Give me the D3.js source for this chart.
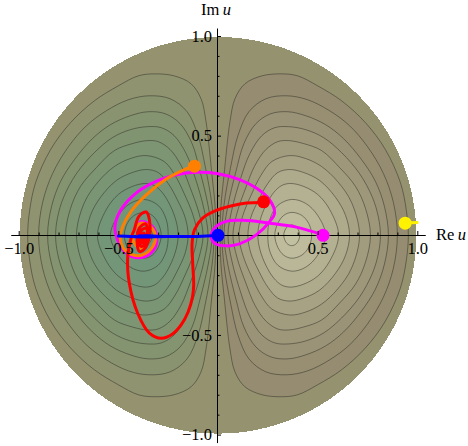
<!DOCTYPE html>
<html>
<head>
<meta charset="utf-8">
<style>
html, body { margin: 0; padding: 0; background: #fff; }
svg { display: block; }
text { font-family: "Liberation Serif", serif; font-size: 16.5px; fill: #000; }
</style>
<script src="https://cdn.jsdelivr.net/npm/d3@7"></script>
</head>
<body>
<svg id="chart" width="468" height="446"></svg>
<script>
// level curves, upper right quarter only (u, v). outermost first
const curve01 = [[0.01,0],[0.015,0.15],[0.03,0.30],[0.06,0.57],[0.085,0.685],[0.135,0.76],[0.22,0.80],[0.32,0.81],[0.40,0.80],[0.50,0.75],[0.62,0.675],[0.74,0.565],[0.84,0.43],[0.915,0.265],[0.945,0.125],[0.955,0]];
const curve02 = [[0.02,0],[0.03,0.15],[0.065,0.35],[0.10,0.50],[0.155,0.62],[0.24,0.685],[0.345,0.70],[0.45,0.68],[0.56,0.625],[0.66,0.55],[0.75,0.445],[0.83,0.31],[0.88,0.165],[0.90,0]];
const curve03 = [[0.03,0],[0.05,0.15],[0.09,0.32],[0.13,0.46],[0.19,0.56],[0.265,0.61],[0.35,0.62],[0.44,0.60],[0.54,0.555],[0.63,0.485],[0.72,0.38],[0.79,0.27],[0.835,0.145],[0.855,0]];
const curve04 = [[0.05,0],[0.07,0.13],[0.115,0.29],[0.16,0.41],[0.22,0.50],[0.285,0.54],[0.355,0.545],[0.44,0.53],[0.53,0.49],[0.62,0.415],[0.71,0.31],[0.775,0.19],[0.805,0.09],[0.815,0]];
const curve05 = [[0.075,0],[0.095,0.11],[0.14,0.24],[0.185,0.35],[0.24,0.43],[0.30,0.47],[0.355,0.475],[0.43,0.46],[0.52,0.425],[0.61,0.34],[0.69,0.245],[0.74,0.135],[0.765,0]];
const curve06 = [[0.105,0],[0.125,0.10],[0.17,0.21],[0.215,0.30],[0.27,0.37],[0.36,0.40],[0.44,0.385],[0.52,0.345],[0.60,0.27],[0.67,0.165],[0.71,0]];
const curve07 = [[0.15,0],[0.165,0.09],[0.205,0.18],[0.25,0.26],[0.30,0.315],[0.36,0.33],[0.43,0.315],[0.51,0.275],[0.59,0.19],[0.64,0.10],[0.66,0]];
const curve08 = [[0.20,0],[0.21,0.07],[0.24,0.15],[0.28,0.215],[0.32,0.25],[0.365,0.26],[0.43,0.245],[0.50,0.205],[0.56,0.13],[0.605,0]];
const curve09 = [[0.25,0],[0.26,0.08],[0.30,0.15],[0.37,0.18],[0.44,0.16],[0.50,0.10],[0.54,0]];
const curve10 = [[0.285,0],[0.30,0.06],[0.33,0.10],[0.37,0.115],[0.42,0.10],[0.455,0.06],[0.47,0]];
const curve11 = [[0.33,0],[0.345,0.04],[0.37,0.052],[0.395,0.04],[0.41,0]];
const levelCurves = [curve01, curve02, curve03, curve04, curve05, curve06, curve07, curve08, curve09, curve10, curve11];

const diskColor = "#959270";
const rightBands = ["#968c71","#988f73","#9b9378","#9e977a","#a29c7f","#a8a285","#aeaa8c","#b4b192","#bab798","#bebc9d","#c1c0a0"];
const leftBands = ["#8f9370","#8a9370","#859470","#819471","#7d9572","#7a9574","#779576","#749678","#72967a","#71967c","#6f967e"];

// trajectories, from their start dot inwards
const yellowPath = [[0.999,0.064],[0.97,0.063],[0.939,0.061]];
const magentaPath = [[0.527,0.002],[0.393,0.041],[0.259,0.061],[0.125,0.075],[0.041,0.07],[-0.018,0.036],[-0.034,-0.006],[-0.018,-0.039],[0.041,-0.053],[0.108,-0.043],[0.192,0.002],[0.259,0.069],[0.284,0.111],[0.259,0.178],[0.192,0.237],[0.108,0.279],[0,0.309],[-0.109,0.316],[-0.21,0.304],[-0.311,0.27],[-0.411,0.212],[-0.487,0.128],[-0.517,0.044],[-0.504,-0.023],[-0.475,-0.075],[-0.428,-0.108],[-0.37,-0.108],[-0.316,-0.062],[-0.308,-0.006],[-0.33,0.045],[-0.386,0.068],[-0.42,0.028]];
const orangePath = [[-0.115,0.349],[-0.176,0.326],[-0.26,0.282],[-0.36,0.203],[-0.436,0.12],[-0.478,0.044],[-0.49,-0.014],[-0.475,-0.065],[-0.428,-0.098],[-0.378,-0.098],[-0.327,-0.056],[-0.314,-0.006],[-0.336,0.041],[-0.386,0.061],[-0.42,0.028],[-0.428,-0.022],[-0.394,-0.064],[-0.361,-0.047],[-0.344,-0.006],[-0.36,0.028]];
const redPath = [[0.225,0.165],[0.142,0.162],[0.059,0.146],[-0.009,0.125],[-0.076,0.087],[-0.118,0.028],[-0.13,-0.039],[-0.127,-0.14],[-0.122,-0.25],[-0.128,-0.31],[-0.15,-0.385],[-0.185,-0.45],[-0.23,-0.497],[-0.285,-0.517],[-0.344,-0.491],[-0.403,-0.391],[-0.445,-0.241],[-0.453,-0.107],[-0.436,-0.014],[-0.42,0.028],[-0.397,0.095],[-0.36,0.117],[-0.344,0.078],[-0.344,-0.006],[-0.369,-0.069],[-0.394,-0.081],[-0.406,-0.031],[-0.394,0.036],[-0.364,0.058],[-0.352,0.019],[-0.36,-0.039],[-0.386,-0.056],[-0.394,-0.014],[-0.381,0.028],[-0.36,0.036],[-0.356,-0.006],[-0.377,-0.039],[-0.386,-0.014],[-0.372,0.012],[-0.366,-0.011],[-0.376,-0.02]];
const bluePath = [[-0.50,-0.004],[-0.44,-0.006],[-0.36,-0.009],[-0.30,-0.004],[-0.40,-0.002],[-0.36,-0.006],[-0.2,-0.006],[-0.1,-0.006],[0,0]];

const startDots = [
    { name: "yellow", color: "#fff200", u: 0.939, v: 0.061 },
    { name: "magenta", color: "#ff00ff", u: 0.527, v: 0 },
    { name: "orange", color: "#ff8000", u: -0.118, v: 0.347 },
    { name: "red", color: "#ff0000", u: 0.229, v: 0.168 },
    { name: "blue", color: "#0000ff", u: 0, v: 0 }
];

const majorTicks = [-1, -0.5, 0.5, 1];
const minorTicks = [-0.9, -0.8, -0.7, -0.6, -0.4, -0.3, -0.2, -0.1, 0.1, 0.2, 0.3, 0.4, 0.6, 0.7, 0.8, 0.9];

const svg = d3.select("#chart");

const unit = 199.3;
const cx = 218;
const cy = 235.3;
const x = d3.scaleLinear().domain([-1.04, 1.04]).range([cx - 1.04 * unit, cx + 1.04 * unit]);
const y = d3.scaleLinear().domain([-1.04, 1.04]).range([cy + 1.04 * unit, cy - 1.04 * unit]);

const tickText = d => (d < 0 ? "\u2212" : "") + Math.abs(d).toFixed(1);

// disk
svg.append("ellipse")
    .attr("cx", x(0))
    .attr("cy", y(0))
    .attr("rx", x(0.995) - x(0))
    .attr("ry", y(0) - y(0.995))
    .attr("fill", diskColor)
    .attr("shape-rendering", "crispEdges");

// one lobe of closed curves, filled from the outside in
const lobeLine = d3.line().x(d => x(d[0])).y(d => y(d[1])).curve(d3.curveCatmullRomClosed.alpha(0.5));
function closeCurve(points, sign) {
    const top = points.map(p => [sign * p[0], p[1]]);
    const bottom = points.slice(1, -1).reverse().map(p => [sign * p[0], -p[1]]);
    return top.concat(bottom);
}
[[1, rightBands], [-1, leftBands]].forEach(([sign, bands]) => {
    svg.append("g")
        .selectAll("path")
        .data(levelCurves)
        .join("path")
        .attr("d", d => lobeLine(closeCurve(d, sign)))
        .attr("fill", (d, i) => bands[i])
        .attr("stroke", "#2e2e26")
        .attr("stroke-opacity", 0.5)
        .attr("stroke-width", 1);
});

// axes
function drawAxis(axis, transform) {
    return svg.append("g").attr("transform", transform).call(axis);
}
const xMajor = drawAxis(d3.axisBottom(x).tickValues(majorTicks).tickFormat(tickText).tickSizeInner(-4).tickSizeOuter(0).tickPadding(7), "translate(0,235)");
const xMinor = drawAxis(d3.axisBottom(x).tickValues(minorTicks).tickFormat("").tickSizeInner(-2.5).tickSizeOuter(0), "translate(0,235)");
const yMajor = drawAxis(d3.axisLeft(y).tickValues(majorTicks).tickFormat(tickText).tickSizeInner(-4).tickSizeOuter(0).tickPadding(5), "translate(217,0)");
const yMinor = drawAxis(d3.axisLeft(y).tickValues(minorTicks).tickFormat("").tickSizeInner(-2.5).tickSizeOuter(0), "translate(217,0)");
svg.selectAll(".tick line, .domain").attr("stroke", "#000");

// trajectories
const pathLine = d3.line().x(d => x(d[0])).y(d => y(d[1])).curve(d3.curveCatmullRom.alpha(0.5));
[[yellowPath, "#fff200"], [magentaPath, "#ff00ff"], [orangePath, "#ff8000"], [redPath, "#ff0000"], [bluePath, "#0000ff"]].forEach(([points, color]) => {
    svg.append("path")
        .attr("d", pathLine(points))
        .attr("fill", "none")
        .attr("stroke", color)
        .attr("stroke-width", 3)
        .attr("stroke-linejoin", "round")
        .attr("stroke-linecap", "round");
});

svg.append("g")
    .selectAll("circle")
    .data(startDots)
    .join("circle")
    .attr("cx", d => x(d.u))
    .attr("cy", d => y(d.v))
    .attr("r", 6.5)
    .attr("fill", d => d.color);

// labels sit above the curves
svg.node().appendChild(xMajor.node());
svg.node().appendChild(yMajor.node());
svg.selectAll(".tick text").style("font-family", "'Liberation Serif', serif").style("font-size", "16.5px").attr("fill", "#000");
xMajor.select(".domain").remove();
yMajor.select(".domain").remove();

function axisTitle(px, py, word) {
    const t = svg.append("text").attr("x", px).attr("y", py);
    t.append("tspan").text(word + "\u2009");
    t.append("tspan").attr("font-style", "italic").text("u");
}
axisTitle(436, 240, "Re");
axisTitle(201, 15, "Im");
</script>
</body>
</html>
